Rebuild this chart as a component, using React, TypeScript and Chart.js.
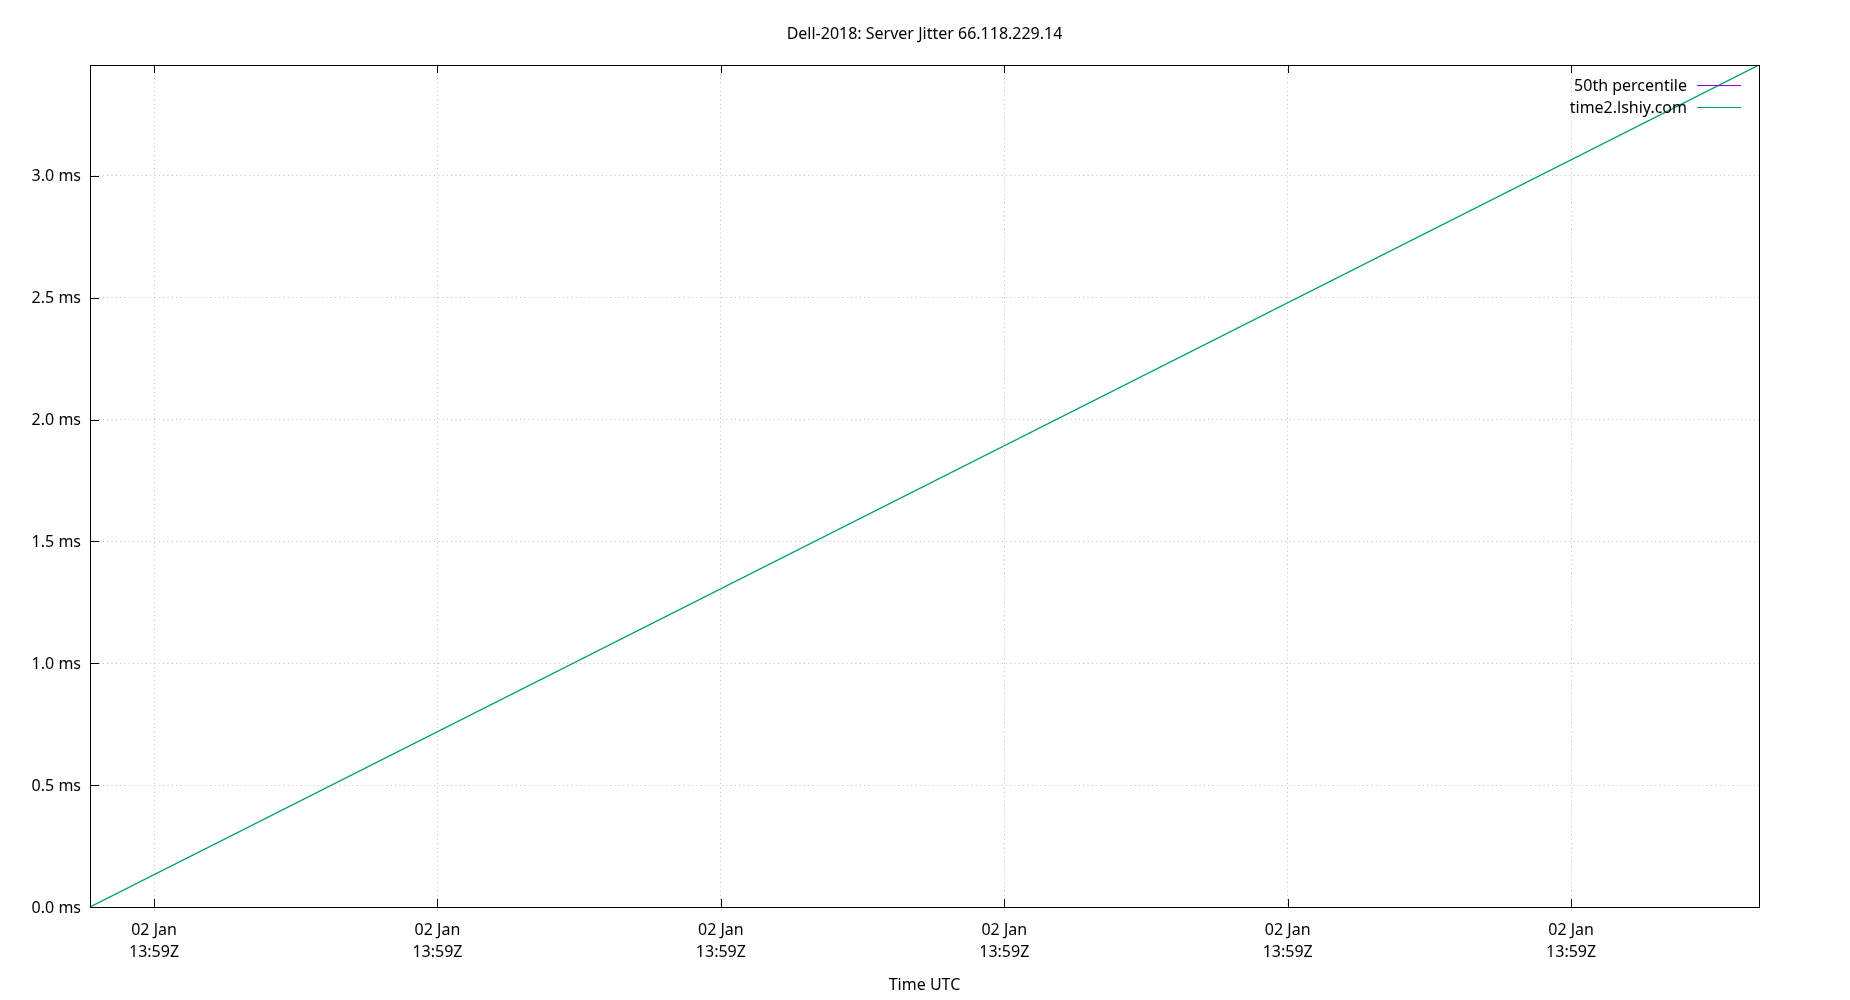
import React, { useEffect, useRef } from "react";
import { Chart, registerables } from "chart.js";

Chart.register(...registerables);

// Data (x in seconds from start of window)
const timeValues = [0, 5.889];
const jitterValues = [0, 3.455];
const percentileTimes: number[] = [];
const percentileValues: number[] = [];

const xTickValues = [0.226, 1.226, 2.226, 3.226, 4.226, 5.226];
const xTickLabels = [
  ["02 Jan", "13:59Z"],
  ["02 Jan", "13:59Z"],
  ["02 Jan", "13:59Z"],
  ["02 Jan", "13:59Z"],
  ["02 Jan", "13:59Z"],
  ["02 Jan", "13:59Z"],
];
const yTickValues = [0, 0.5, 1.0, 1.5, 2.0, 2.5, 3.0];
const seriesNames = ["50th percentile", "time2.lshiy.com"];
const seriesColors = ["#9400d3", "#009e73"];
const titleText = "Dell-2018: Server Jitter 66.118.229.14";
const xTitle = "Time UTC";

const FONT = "'Noto Sans', 'Open Sans', sans-serif";

const framePlugin = {
  id: "frame",
  afterDraw(chart: any) {
    const { ctx, chartArea: a } = chart;
    const xs = chart.scales.x;
    const ys = chart.scales.y;
    ctx.save();
    ctx.strokeStyle = "#000";
    ctx.lineWidth = 1;
    ctx.setLineDash([]);
    // border box
    ctx.strokeRect(Math.round(a.left) + 0.5, Math.round(a.top) + 0.5, Math.round(a.right - a.left), Math.round(a.bottom - a.top));
    // inward ticks
    ctx.beginPath();
    xTickValues.forEach((v) => {
      const px = Math.round(xs.getPixelForValue(v)) + 0.5;
      ctx.moveTo(px, a.bottom);
      ctx.lineTo(px, a.bottom - 8);
      ctx.moveTo(px, a.top);
      ctx.lineTo(px, a.top + 8);
    });
    yTickValues.forEach((v) => {
      const py = Math.round(ys.getPixelForValue(v)) + 0.5;
      ctx.moveTo(a.left, py);
      ctx.lineTo(a.left + 9, py);
    });
    ctx.stroke();

    // title
    ctx.fillStyle = "#000";
    ctx.font = `16px ${FONT}`;
    ctx.textAlign = "center";
    ctx.textBaseline = "middle";
    const cx = (a.left + a.right) / 2;
    ctx.fillText(titleText, cx, 34);
    ctx.fillText(xTitle, cx, 985);

    // legend
    ctx.textAlign = "right";
    seriesNames.forEach((name, i) => {
      const y = 86 + i * 22;
      ctx.fillStyle = "#000";
      ctx.fillText(name, a.right - 72, y);
      ctx.strokeStyle = seriesColors[i];
      ctx.lineWidth = 1;
      ctx.beginPath();
      ctx.moveTo(a.right - 62, Math.round(y - 1) + 0.5);
      ctx.lineTo(a.right - 18, Math.round(y - 1) + 0.5);
      ctx.stroke();
    });
    ctx.restore();
  },
};

export default function App() {
  const ref = useRef<HTMLCanvasElement | null>(null);
  useEffect(() => {
    if (!ref.current) return;
    const chart = new Chart(ref.current, {
      type: "line",
      data: {
        datasets: [
          {
            label: seriesNames[0],
            data: percentileTimes.map((t, i) => ({ x: t, y: percentileValues[i] })),
            borderColor: seriesColors[0],
            borderWidth: 1,
            pointRadius: 0,
          },
          {
            label: seriesNames[1],
            data: timeValues.map((t, i) => ({ x: t, y: jitterValues[i] })),
            borderColor: seriesColors[1],
            borderWidth: 1.3,
            pointRadius: 0,
          },
        ],
      },
      plugins: [framePlugin],
      options: {
        animation: false,
        responsive: false,
        maintainAspectRatio: false,
        layout: { padding: { top: 65, right: 91, left: 0, bottom: 0 } },
        plugins: {
          legend: { display: false },
          title: { display: false },
          tooltip: { enabled: false },
        },
        scales: {
          x: {
            type: "linear",
            min: timeValues[0],
            max: timeValues[timeValues.length - 1],
            afterBuildTicks: (s: any) => {
              s.ticks = xTickValues.map((v) => ({ value: v }));
            },
            afterFit: (s: any) => {
              s.height = 93;
            },
            border: { display: false, dash: [1, 3.3] },
            grid: {
              color: "#bcbcbc",
              lineWidth: 1,
              drawTicks: false,
            },
            ticks: {
              autoSkip: false,
              maxRotation: 0,
              padding: 13,
              color: "#000",
              font: { family: FONT, size: 16, lineHeight: 1.36 },
              callback: (_v: any, i: number) => xTickLabels[i],
            },
          },
          y: {
            type: "linear",
            min: 0,
            max: jitterValues[jitterValues.length - 1],
            afterBuildTicks: (s: any) => {
              s.ticks = yTickValues.map((v) => ({ value: v }));
            },
            afterFit: (s: any) => {
              s.width = 90;
            },
            border: { display: false, dash: [1, 3.3] },
            grid: { color: "#bcbcbc", lineWidth: 1, drawTicks: false },
            ticks: {
              padding: 9,
              labelOffset: 1,
              color: "#000",
              font: { family: FONT, size: 16 },
              callback: (v: any) => `${Number(v).toFixed(1)} ms`,
            },
          },
        },
      },
    } as any);
    return () => chart.destroy();
  }, []);
  return (
    <div style={{ position: "fixed", left: 0, top: 0, width: 1850, height: 1000, background: "#fff" }}>
      <canvas ref={ref} width={1850} height={1000} style={{ width: 1850, height: 1000, display: "block" }} />
    </div>
  );
}
